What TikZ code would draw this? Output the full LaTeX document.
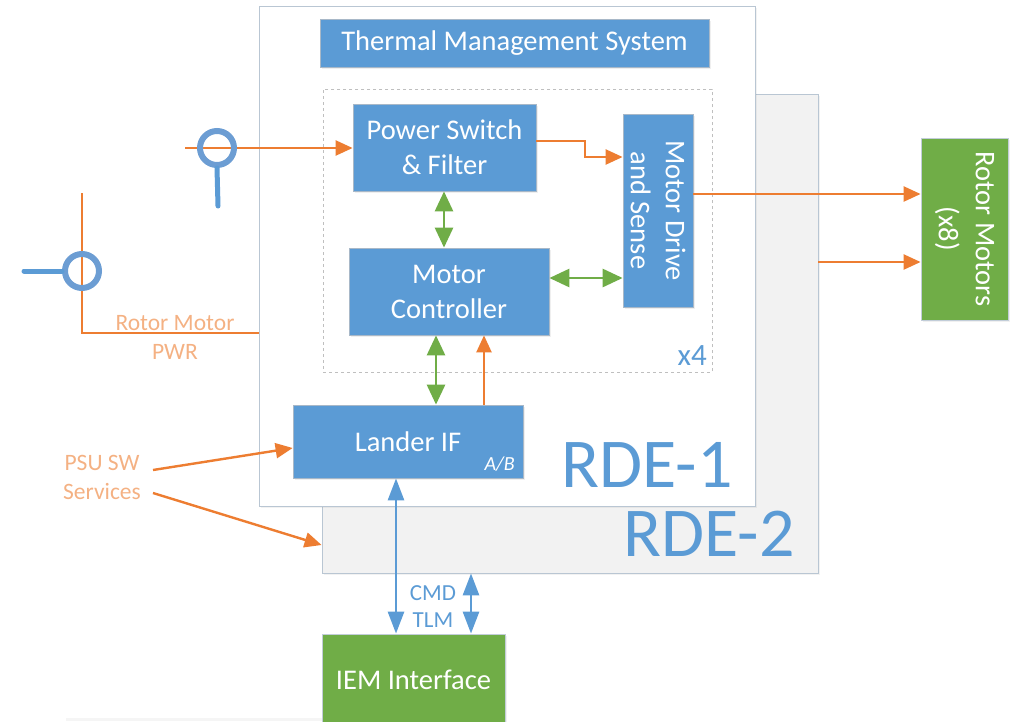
\documentclass[tikz,border=0pt]{standalone}
\usepackage{fontspec}
\setmainfont{Carlito}
\usetikzlibrary{arrows.meta,shadows}
\definecolor{bfill}{HTML}{5B9BD5}
\definecolor{gfill}{HTML}{70AD47}
\definecolor{orng}{HTML}{ED7D31}
\definecolor{lorng}{HTML}{F4B183}
\definecolor{ringc}{HTML}{6C9DD3}
\definecolor{edgec}{HTML}{A8B8C8}
\definecolor{panelc}{HTML}{F2F2F2}
\tikzset{
  bluebox/.style={rectangle, fill=bfill, draw=edgec, line width=0.8pt, text=white, align=center, inner sep=0pt,
    font=\fontsize{28.5}{35}\selectfont, drop shadow={opacity=0.12, shadow xshift=2pt, shadow yshift=-2pt}},
  greenbox/.style={rectangle, fill=gfill, draw=edgec!70, line width=0.8pt, text=white, align=center, inner sep=0pt,
    font=\fontsize{28.5}{37}\selectfont, drop shadow={opacity=0.12, shadow xshift=2pt, shadow yshift=-2pt}},
  panel/.style={rectangle, draw=edgec!80, line width=0.8pt, inner sep=0pt,
    drop shadow={opacity=0.10, shadow xshift=2pt, shadow yshift=-2pt}},
  oarrow/.style={draw=orng, line width=2.4pt, -{Triangle[length=17pt,width=15pt]}},
  oline/.style={draw=orng, line width=2.4pt},
  garrow/.style={draw=gfill, line width=2.8pt, {Triangle[length=20pt,width=18pt]}-{Triangle[length=20pt,width=18pt]}},
  barrow/.style={draw=bfill, line width=2.8pt, {Triangle[length=22pt,width=16pt]}-{Triangle[length=22pt,width=16pt]}},
  ring/.style={circle, draw=ringc, line width=6pt, minimum size=34pt, inner sep=0pt},
  stem/.style={draw=bfill, line width=5pt, line cap=round},
  otext/.style={text=lorng, align=center, inner sep=0pt, font=\fontsize{23.5}{29}\selectfont},
  btext/.style={text=bfill, align=center, inner sep=0pt},
}
\begin{document}
\begin{tikzpicture}[x=1pt,y=-1pt]
\useasboundingbox (0,0) rectangle (1023,721);
% faint line at bottom
\draw[draw=black!4, line width=3pt] (66,719) -- (444,719);
% panels
\node[panel, fill=panelc, minimum width=496pt, minimum height=479pt] (rde2) at (570,333.5) {};
\node[panel, fill=white, minimum width=496pt, minimum height=500pt] (rde1) at (507,256) {};
\node[btext, font=\fontsize{70}{70}\selectfont, anchor=base] (l2) at (709,556) {RDE-2};
\node[btext, font=\fontsize{70}{70}\selectfont, anchor=base] (l1) at (647,487) {RDE-1};
% dashed group
\node[rectangle, draw=black!25, dashed, line width=0.8pt, minimum width=389pt, minimum height=283pt, inner sep=0pt] (grp) at (517.5,230.5) {};
\node[btext, font=\fontsize{31}{31}\selectfont, anchor=base east] (x4) at (707,365) {x4};
% boxes
\node[bluebox, minimum width=389pt, minimum height=48pt] (tms) at (514.5,43) {Thermal Management System};
\node[bluebox, minimum width=183pt, minimum height=87pt] (ps) at (444.5,147.5) {Power Switch\\\& Filter};
\node[bluebox, minimum width=200pt, minimum height=87pt] (mc) at (449,291.5) {Motor\\Controller};
\node[bluebox, minimum width=193pt, minimum height=70pt, rotate=-90] (md) at (658,210.5) {Motor Drive\\and Sense};
\node[bluebox, minimum width=230pt, minimum height=73pt] (li) at (408,441.5) {Lander IF};
\node[text=white, inner sep=0pt, font=\fontsize{20}{20}\selectfont\itshape, anchor=base east] (ab) at (515,470) {A/B};
\node[greenbox, minimum width=182pt, minimum height=87pt, rotate=-90] (rm) at (964.5,229) {Rotor Motors\\(x8)};
\node[greenbox, minimum width=183pt, minimum height=92pt] (iem) at (413.5,680) {IEM Interface};
% labels
\node[otext] (pwr) at (175,337) {Rotor Motor\\PWR};
\node[otext] (psu) at (102,477) {PSU SW\\Services};
\node[btext, font=\fontsize{23}{27}\selectfont] (cmd) at (433,607) {CMD\\TLM};
% orange connectors
\coordinate (in1) at (185,148);
\draw[oarrow] (in1) -- (ps.west |- in1);
\coordinate (in2) at (82,193);
\draw[oline] (in2) -- (82,333) -- (rde1.west |- 0,333);
\draw[oarrow] (ps.east |- 0,141) -- (585,141) -- (585,157) -- (md.south |- 0,157);
\draw[oarrow] (md.north |- 0,194) -- (rm.south |- 0,194);
\draw[oarrow] (rde2.east |- 0,262) -- (rm.south |- 0,262);
\draw[oarrow] (li.north -| 484,0) -- (mc.south -| 484,0);
\coordinate (p1) at (153,470);
\coordinate (p2) at (153,493);
\draw[oarrow] (p1) -- (li.west |- 0,448);
\draw[oarrow] (p2) -- (rde2.west |- 0,545);
% green connectors
\draw[garrow] (ps.south -| 444,0) -- (mc.north -| 444,0);
\draw[garrow] (mc.east |- 0,278) -- (md.south |- 0,278);
\draw[garrow] (mc.south -| 436,0) -- (li.north -| 436,0);
% blue connectors
\draw[barrow] (li.south -| 396,0) -- (iem.north -| 396,0);
\draw[barrow] (rde2.south -| 471,0) -- (iem.north -| 471,0);
% connector rings
\node[ring] (c1) at (217,148) {};
\draw[stem] (c1.south) -- (218,206);
\node[ring] (c2) at (82,271) {};
\draw[stem] (c2.west) -- (24,271);
\end{tikzpicture}
\end{document}
